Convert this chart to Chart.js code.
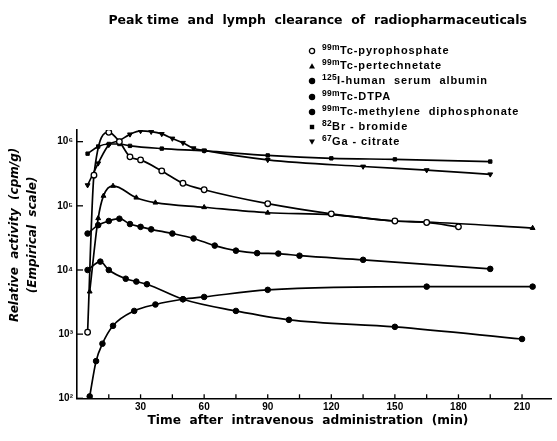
<!DOCTYPE html>
<html lang="en">
<head>
<meta charset="UTF-8">
<title>Peak time and lymph clearance of radiopharmaceuticals</title>
<script src="https://cdn.jsdelivr.net/npm/chart.js"></script>
<style>
  body { margin: 0; background: #fff; }
  #wrap { position: relative; width: 557px; height: 441px; }
  #legend {
    position: absolute; left: 308px; top: 43px;
    font: bold 11px 'Liberation Sans', Arial, sans-serif;
    letter-spacing: 0.9px; line-height: 15.2px; color: #000;
    white-space: pre;
  }
  #legend .item { height: 15.2px; }
  #legend svg { vertical-align: middle; margin-right: 6px; }
  #legend sup { font-size: 8.5px; vertical-align: 4px; line-height: 0; letter-spacing: 0.3px; }
</style>
</head>
<body>
<div id="wrap">
  <canvas id="lymphChart" width="557" height="441"></canvas>
  <div id="legend"></div>
</div>
<script>
// times (min) and relative activity (cpm/g)
var tPyro = [5, 8, 15, 20, 25, 30, 40, 50, 60, 90, 120, 150, 165, 180];
var vPyro = [1.07e3, 3.0e5, 1.4e6, 1.0e6, 5.8e5, 5.2e5, 3.5e5, 2.25e5, 1.78e5, 1.08e5, 7.5e4, 5.8e4, 5.5e4, 4.7e4];

var tPertech = [6, 10, 12.5, 17, 28, 37, 60, 90, 120, 150, 165, 215];
var vPertech = [4.6e3, 6.4e4, 1.43e5, 2.04e5, 1.34e5, 1.12e5, 9.5e4, 7.8e4, 7.3e4, 5.8e4, 5.6e4, 4.5e4];

var tHsa = [6, 9, 12, 17, 27, 37, 50, 60, 90, 165, 215];
var vHsa = [1.07e2, 3.8e2, 7.1e2, 1.35e3, 2.3e3, 2.9e3, 3.5e3, 3.8e3, 4.9e3, 5.5e3, 5.5e3];

var tDtpa = [5, 11, 15, 23, 28, 33, 50, 75, 100, 150, 210];
var vDtpa = [1.0e4, 1.35e4, 1.0e4, 7.3e3, 6.6e3, 6.0e3, 3.5e3, 2.3e3, 1.67e3, 1.3e3, 8.4e2];

var tMdp = [5, 10, 15, 20, 25, 30, 35, 45, 55, 65, 75, 85, 95, 105, 135, 195];
var vMdp = [3.7e4, 5.0e4, 5.8e4, 6.3e4, 5.2e4, 4.7e4, 4.3e4, 3.7e4, 3.1e4, 2.4e4, 2.0e4, 1.83e4, 1.8e4, 1.67e4, 1.44e4, 1.04e4];

var tBr = [5, 10, 15, 20, 25, 40, 60, 90, 120, 150, 195];
var vBr = [6.5e5, 8.4e5, 9.2e5, 9.2e5, 8.6e5, 7.8e5, 7.2e5, 6.1e5, 5.5e5, 5.3e5, 4.9e5];

var tGa = [5, 10, 15, 20, 25, 30, 35, 40, 45, 50, 55, 60, 90, 135, 165, 195];
var vGa = [2.1e5, 4.6e5, 8.9e5, 1.04e6, 1.3e6, 1.47e6, 1.43e6, 1.32e6, 1.12e6, 9.6e5, 7.9e5, 7.3e5, 5.2e5, 4.1e5, 3.6e5, 3.1e5];

var xTickValues = [15, 30, 45, 60, 75, 90, 105, 120, 135, 150, 165, 180, 195, 210];
var xLabelValues = [30, 60, 90, 120, 150, 180, 210];
var yTickExponents = [2, 3, 4, 5, 6];

var series = [
  { iso: '99m', name: 'Tc-pyrophosphate', t: tPyro, v: vPyro, style: 'circle', open: true },
  { iso: '99m', name: 'Tc-pertechnetate', t: tPertech, v: vPertech, style: 'triangle' },
  { iso: '125', name: 'I-human  serum  albumin', t: tHsa, v: vHsa, style: 'circle' },
  { iso: '99m', name: 'Tc-DTPA', t: tDtpa, v: vDtpa, style: 'circle' },
  { iso: '99m', name: 'Tc-methylene  diphosphonate', t: tMdp, v: vMdp, style: 'circle' },
  { iso: '82', name: 'Br - bromide', t: tBr, v: vBr, style: 'rect' },
  { iso: '67', name: 'Ga - citrate', t: tGa, v: vGa, style: 'triangle', rot: 180 }
];

var sup = { '0': '\u2070', '1': '\u00b9', '2': '\u00b2', '3': '\u00b3', '4': '\u2074',
            '5': '\u2075', '6': '\u2076', '7': '\u2077', '8': '\u2078', '9': '\u2079' };

Chart.defaults.color = '#000';
Chart.defaults.font.family = "'Liberation Sans', Arial, sans-serif";

var datasets = series.map(function(s) {
  return {
    label: s.iso + s.name,
    data: s.t.map(function(t, i) { return { x: t, y: s.v[i] }; }),
    borderColor: '#000',
    borderWidth: 1.7,
    backgroundColor: s.open ? '#fff' : '#000',
    pointBorderColor: '#000',
    pointBorderWidth: s.open ? 1.3 : 1,
    pointStyle: s.style,
    pointRotation: s.rot || 0,
    pointRadius: s.style === 'rect' ? 2.4 : 2.8,
    cubicInterpolationMode: 'monotone',
    fill: false
  };
});

// ticks pointing into the plot, like the original figure
var inwardTicks = {
  id: 'inwardTicks',
  afterDraw: function(chart) {
    var ctx = chart.ctx, area = chart.chartArea;
    var x = chart.scales.x, y = chart.scales.y;
    ctx.save();
    ctx.strokeStyle = '#000';
    ctx.lineWidth = 1.3;
    y.ticks.forEach(function(tk) {
      var py = y.getPixelForValue(tk.value);
      ctx.beginPath(); ctx.moveTo(area.left, py); ctx.lineTo(area.left + 6, py); ctx.stroke();
    });
    x.ticks.forEach(function(tk) {
      var px = x.getPixelForValue(tk.value);
      ctx.beginPath(); ctx.moveTo(px, area.bottom); ctx.lineTo(px, area.bottom - 4); ctx.stroke();
    });
    ctx.restore();
  }
};

// leading blanks shift the centred titles, as in the figure
var yPad = '              ';
var titlePad = '                  ';

var ctx = document.getElementById('lymphChart').getContext('2d');
var lymphChart = new Chart(ctx, {
  type: 'line',
  data: { datasets: datasets },
  plugins: [inwardTicks],
  options: {
    responsive: false,
    animation: false,
    layout: { padding: { left: 0, right: 0, top: 0, bottom: 0 } },
    plugins: {
      legend: { display: false },
      tooltip: { enabled: false },
      title: {
        display: true,
        text: titlePad + 'Peak time  and  lymph  clearance  of  radiopharmaceuticals',
        font: { family: "'DejaVu Sans', sans-serif", size: 12.5, weight: 'bold', lineHeight: 1.2 },
        padding: { top: 13, bottom: 102 }
      }
    },
    scales: {
      x: {
        type: 'linear',
        min: 0,
        max: 224,
        afterBuildTicks: function(scale) {
          scale.ticks = xTickValues.map(function(v) { return { value: v }; });
        },
        afterFit: function(scale) { scale.height = 42.7; },
        grid: { display: false, drawTicks: false },
        border: { display: true, color: '#000', width: 1.6 },
        ticks: {
          padding: 3,
          autoSkip: false,
          maxRotation: 0,
          font: { size: 10, weight: 'bold' },
          callback: function(v) { return xLabelValues.indexOf(v) >= 0 ? String(v) : ''; }
        },
        title: {
          display: true,
          text: 'Time  after  intravenous  administration  (min)   ',
          font: { family: "'DejaVu Sans', sans-serif", size: 12.2, weight: 'bold', lineHeight: 1.2 },
          padding: { top: 0, bottom: 13 }
        }
      },
      y: {
        type: 'logarithmic',
        min: 100,
        max: 1.52e6,
        afterBuildTicks: function(scale) {
          scale.ticks = yTickExponents.map(function(e) { return { value: Math.pow(10, e) }; });
        },
        afterFit: function(scale) { scale.width = 77; },
        grid: { display: false, drawTicks: false },
        border: { display: true, color: '#000', width: 1.6 },
        ticks: {
          padding: 4,
          autoSkip: false,
          font: { size: 10, weight: 'bold' },
          callback: function(v) {
            var e = String(Math.round(Math.log10(v)));
            return '10' + e.split('').map(function(c) { return sup[c]; }).join('');
          }
        },
        title: {
          display: true,
          text: [yPad + 'Relative  activity  (cpm/g)', yPad + '(Empirical  scale)'],
          font: { family: "'DejaVu Sans', sans-serif", size: 12, weight: 'bold', style: 'italic', lineHeight: 1.5 },
          padding: { top: 6, bottom: 0 }
        }
      }
    }
  }
});

// legend as HTML so isotope numbers can be superscripts
function markerSvg(s) {
  var shape;
  if (s.style === 'circle') {
    shape = '<circle cx="4" cy="4" r="2.6" fill="' + (s.open ? '#fff' : '#000') + '" stroke="#000" stroke-width="1.3"/>';
  } else if (s.style === 'rect') {
    shape = '<rect x="1.8" y="1.8" width="4.4" height="4.4" fill="#000"/>';
  } else if (s.rot) {
    shape = '<polygon points="1,1.5 7,1.5 4,6.8" fill="#000"/>';
  } else {
    shape = '<polygon points="1,6.5 7,6.5 4,1.2" fill="#000"/>';
  }
  return '<svg width="8" height="8" viewBox="0 0 8 8">' + shape + '</svg>';
}
var legendEl = document.getElementById('legend');
series.forEach(function(s) {
  var div = document.createElement('div');
  div.className = 'item';
  div.innerHTML = markerSvg(s) + '<sup>' + s.iso + '</sup>' + s.name;
  legendEl.appendChild(div);
});
</script>
</body>
</html>
